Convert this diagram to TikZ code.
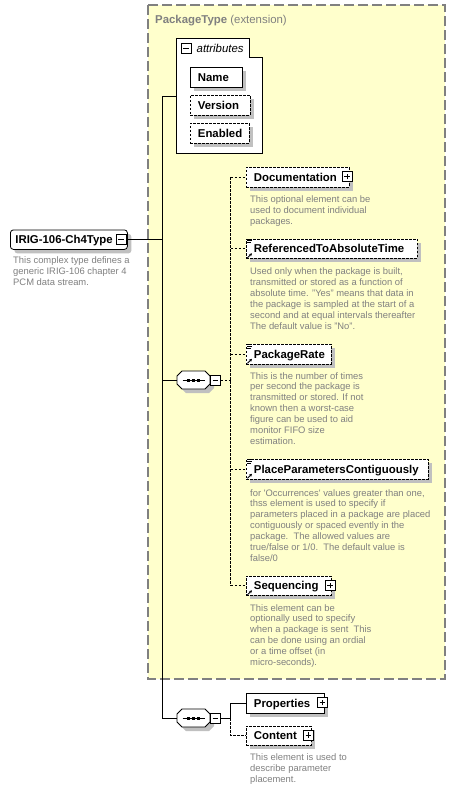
\documentclass[tikz,border=0pt]{standalone}
\usepackage{fontspec}
\setmainfont{Liberation Sans}
\usetikzlibrary{shadows,calc,arrows.meta}
\definecolor{pale}{HTML}{FFFFCC}
\definecolor{txtgray}{HTML}{808080}
\definecolor{shadowgray}{HTML}{C0C0C0}
\definecolor{borderg}{HTML}{808080}
\newcommand\mkminus[2]{\node[pm] (#1) at (#2) {};
  \draw[line width=0.7pt] ([xshift=2.5pt]#1.west) -- ([xshift=-2.5pt]#1.east);}
\newcommand\mkplus[2]{\node[pm] (#1) at (#2) {};
  \draw[line width=0.7pt] ([xshift=2.5pt]#1.west) -- ([xshift=-2.5pt]#1.east);
  \draw[line width=0.7pt] ([yshift=2.5pt]#1.south) -- ([yshift=-2.5pt]#1.north);}
\newcommand\mksimple[1]{%
  \draw[line width=0.6pt] ($(#1.north west)+(1,2)$) -- ++(5,0);
  \draw[line width=0.6pt] ($(#1.north west)+(1,4)$) -- ++(4,0);
  \draw[line width=0.6pt] ($(#1.north west)+(1,0.3)$) -- ++(5,0);}
\newcommand\mkref[1]{%
  \draw[line width=0.8pt,-{Stealth[length=3pt,width=3pt]}] ($(#1.south west)+(1.5,-1)$) -- ++(4.5,-4.5);}
\begin{document}
\begin{tikzpicture}[x=1pt,y=-1pt,
  shad/.style={general shadow={shadow xshift=4pt,shadow yshift=-4pt,fill=shadowgray}},
  elem/.style={draw, fill=white, line width=0.8pt, shad, anchor=north west,
    minimum height=19.5pt, inner xsep=7.5pt, inner ysep=0pt,
    font=\bfseries\fontsize{11.4}{13}\selectfont, text height=8.2pt, text depth=0pt, align=left},
  opt/.style={dash pattern=on 2.5pt off 1.5pt},
  desc/.style={anchor=north west, inner sep=0pt, align=left, text=txtgray,
    font=\fontsize{9.4}{10.9}\selectfont},
  pm/.style={draw, fill=white, line width=0.7pt, minimum size=10pt, inner sep=0pt},
  conn/.style={line width=0.8pt},
  octo/.pic={
    \fill[shadowgray,shift={(4,4)}] (-11.5,-9) -- (11.5,-9) -- (16.5,-4) -- (16.5,4) -- (11.5,9) -- (-11.5,9) -- (-16.5,4) -- (-16.5,-4) -- cycle;
    \draw[fill=white,line width=0.8pt] (-11.5,-9) -- (11.5,-9) -- (16.5,-4) -- (16.5,4) -- (11.5,9) -- (-11.5,9) -- (-16.5,4) -- (-16.5,-4) -- cycle;
    \draw[line width=0.8pt] (-11,0) -- (11,0);
    \fill (-6.5,-1.5) rectangle (-3.5,1.5);
    \fill (-1.5,-1.5) rectangle (1.5,1.5);
    \fill (3.5,-1.5) rectangle (6.5,1.5);
    \coordinate (-west) at (-16.5,0);
    \coordinate (-east) at (16.5,0);
  },
]
\useasboundingbox (0,0) rectangle (456,790);
\fill[white] (0,0) rectangle (456,790);

% extension box
\draw[borderg, fill=pale, line width=1.5pt, dash pattern=on 10pt off 4pt] (148,5) rectangle (445,679);
\node[anchor=base west, inner sep=0pt, text=txtgray, font=\fontsize{11.4}{13}\selectfont] (title) at (155,23)
  {\textbf{PackageType} (extension)};

% attributes group
\draw[line width=0.8pt, fill=white] (176,38) -- (249,38) -- (249,57) -- (262,57) -- (262,153) -- (176,153) -- cycle;
\coordinate (attrW) at (176,96);
\mkminus{attrpm}{186,48.5}
\node[anchor=base west, inner sep=0pt, font=\itshape\fontsize{11.4}{13}\selectfont] (attrlbl) at (196.5,52.5) {attributes};
\node[elem, minimum width=52pt, text width=37pt] (name) at (190,67) {Name};
\node[elem, opt, minimum width=60pt, text width=45pt] (version) at (190,95) {Version};
\node[elem, opt, minimum width=59pt, text width=44pt] (enabled) at (190,123) {Enabled};

% main complex type
\node[elem, rounded corners=3pt, inner xsep=5pt, minimum width=117pt, text width=107pt] (irig) at (10,229.5) {IRIG-106-Ch4Type};
\mkminus{irigpm}{121,239}
\node[desc] (irigdesc) at (13,256.5) {This complex type defines a\\generic IRIG-106 chapter 4\\PCM data stream.};

% compositors
\pic (seq1) at (193.5,380) {octo};
\mkminus{seq1pm}{215.5,380}
\pic (seq2) at (193.5,718) {octo};
\mkminus{seq2pm}{215.5,718}

% trunk
\coordinate (tTop) at (162,96);
\draw[conn] (attrW) -- (tTop) -- (tTop |- seq2-west) -- (seq2-west);
\draw[conn] (irigpm.east) -- (irigpm.east -| tTop);
\draw[conn] (seq1-west) -- (seq1-west -| tTop);

% sequence 1 children
\node[elem, opt, minimum width=103pt, text width=88pt] (doc) at (246,167) {Documentation};
\mkplus{docpm}{347,176.5}
\node[desc] (docdesc) at (250,195.5) {This optional element can be\\used to document individual\\packages.};

\node[elem, opt, minimum width=171pt, text width=156pt] (rat) at (246,238.5) {ReferencedToAbsoluteTime};
\mksimple{rat}\mkref{rat}
\node[desc] (ratdesc) at (250,267.5) {Used only when the package is built,\\transmitted or stored as a function of\\absolute time. "Yes" means that data in\\the package is sampled at the start of a\\second and at equal intervals thereafter\\The default value is "No".};

\node[elem, opt, minimum width=85pt, text width=70pt] (prate) at (246,344) {PackageRate};
\mksimple{prate}\mkref{prate}
\node[desc] (pratedesc) at (250,372) {This is the number of times\\per second the package is\\transmitted or stored. If not\\known then a worst-case\\figure can be used to aid\\monitor FIFO size\\estimation.};

\node[elem, opt, minimum width=182pt, text width=167pt] (ppc) at (246,459) {PlaceParametersContiguously};
\mksimple{ppc}\mkref{ppc}
\node[desc] (ppcdesc) at (250,489) {for \textquotesingle Occurrences\textquotesingle\ values greater than one,\\thss element is used to specify if\\parameters placed in a package are placed\\contiguously or spaced evently in the\\package.\ \ The allowed values are\\true/false or 1/0.\ \ The default value is\\false/0};

\node[elem, opt, minimum width=85pt, text width=70pt] (seqg) at (246,575.5) {Sequencing};
\mkplus{seqgpm}{330,585.5}
\mkref{seqg}
\node[desc] (seqgdesc) at (250,604) {This element can be\\optionally used to specify\\when a package is sent\ \ This\\can be done using an ordial\\or a time offset (in\\micro-seconds).};

\draw[conn,opt] (seq1pm.east) -- ++(10,0) coordinate (b1);
\draw[conn,opt] (b1 |- doc.west) -- (b1 |- seqg.west);
\foreach \n in {doc,rat,prate,ppc,seqg}{
  \draw[conn,opt] (\n.west -| b1) -- (\n.west);
}

% sequence 2 children
\node[elem, minimum width=78pt, text width=63pt] (props) at (246,693) {Properties};
\mkplus{propspm}{322.5,702.5}
\node[elem, opt, minimum width=65pt, text width=50pt] (cont) at (246,725.5) {Content};
\mkplus{contpm}{308.5,735}
\node[desc] (contdesc) at (250,753.5) {This element is used to\\describe parameter\\placement.};

\draw[conn] (seq2pm.east) -- ++(10,0) coordinate (b2);
\draw[conn] (b2) -- (b2 |- props.west) -- (props.west);
\draw[conn,opt] (b2) -- (b2 |- cont.west) -- (cont.west);
\end{tikzpicture}
\end{document}
